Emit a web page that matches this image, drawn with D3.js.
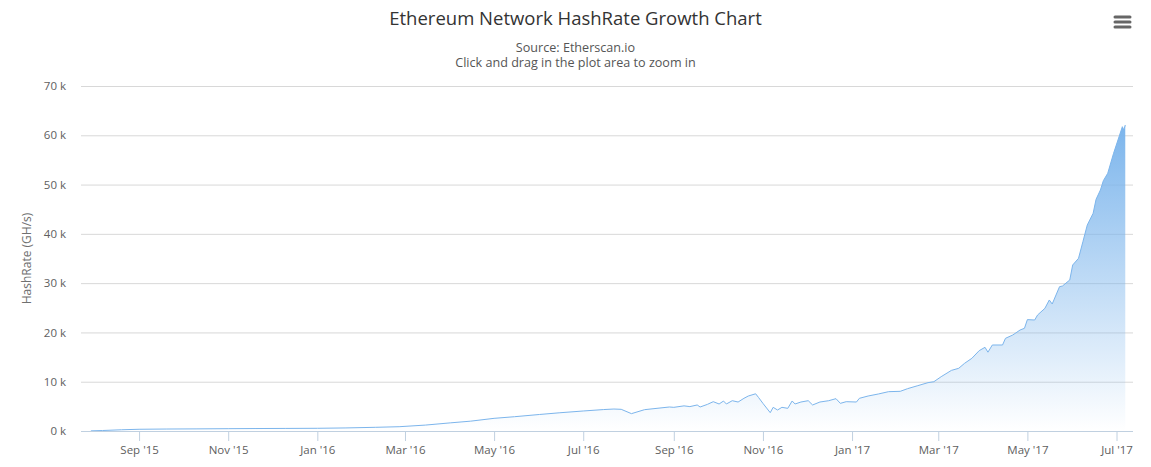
<!DOCTYPE html>
<html>
<head>
<meta charset="utf-8">
<script src="https://cdn.jsdelivr.net/npm/d3@7"></script>
<style>
  html, body { margin: 0; padding: 0; background: #fff; }
  svg { display: block; font-family: "Open Sans", "DejaVu Sans", sans-serif; }
</style>
</head>
<body>
<svg id="chart" width="1151" height="467"></svg>
<script>
// ---- Data ----
const titleText = "Ethereum Network HashRate Growth Chart";
const subtitleLines = ["Source: Etherscan.io", "Click and drag in the plot area to zoom in"];
const yAxisTitle = "HashRate (GH/s)";
const yTicks = [0, 10000, 20000, 30000, 40000, 50000, 60000, 70000];
const xTickDates = ["2015-09-01","2015-11-01","2016-01-01","2016-03-01","2016-05-01","2016-07-01",
                    "2016-09-01","2016-11-01","2017-01-01","2017-03-01","2017-05-01","2017-07-01"];

const dates = [
  "2015-07-30","2015-08-07","2015-08-20","2015-09-01","2015-09-20","2015-10-10","2015-11-01",
  "2015-11-20","2015-12-10","2016-01-01","2016-01-20","2016-02-10","2016-02-26","2016-03-15",
  "2016-04-01","2016-04-15","2016-05-01","2016-05-15","2016-06-01","2016-06-15","2016-07-01",
  "2016-07-15","2016-07-22","2016-07-27","2016-08-03","2016-08-12","2016-08-29","2016-09-01",
  "2016-09-08","2016-09-12","2016-09-17","2016-09-19","2016-09-24","2016-09-28","2016-10-02",
  "2016-10-05","2016-10-07","2016-10-11",
  "2016-10-15","2016-10-19","2016-10-22","2016-10-27","2016-10-29","2016-11-01","2016-11-06",
  "2016-11-08","2016-11-11","2016-11-14","2016-11-18","2016-11-21","2016-11-23","2016-11-27",
  "2016-12-02","2016-12-05","2016-12-10","2016-12-16","2016-12-21","2016-12-24","2016-12-28",
  "2017-01-04","2017-01-06","2017-01-12","2017-01-19","2017-01-26","2017-02-03","2017-02-08",
  "2017-02-15","2017-02-22","2017-02-26","2017-03-03","2017-03-10","2017-03-15","2017-03-19",
  "2017-03-24","2017-03-29","2017-04-02","2017-04-04","2017-04-07","2017-04-14","2017-04-16",
  "2017-04-21","2017-04-26","2017-04-29","2017-05-01","2017-05-06","2017-05-08","2017-05-13",
  "2017-05-16","2017-05-18","2017-05-23","2017-05-25","2017-05-30","2017-06-01","2017-06-05",
  "2017-06-08","2017-06-11","2017-06-15","2017-06-17","2017-06-20","2017-06-22","2017-06-25",
  "2017-06-29","2017-07-02","2017-07-05","2017-07-06","2017-07-07"
];
const hashrate = [
  30,100,250,350,400,430,470,
  500,520,550,620,750,870,1200,
  1650,2000,2570,2900,3350,3700,4060,
  4350,4460,4400,3520,4330,4870,4800,
  5100,4950,5280,4870,5400,5950,5480,
  6080,5480,6150,
  5880,6630,7100,7550,6800,5610,3720,
  4800,4260,4800,4600,6090,5480,5880,
  6150,5280,5880,6150,6560,5610,5950,
  5880,6630,7100,7510,7980,8050,8590,
  9200,9810,10000,11020,12300,12720,13730,
  14750,16300,16980,15990,17450,17450,18800,
  19480,20490,20840,22600,22520,23540,24890,
  26580,25770,29280,29420,30640,33680,35040,
  38410,41800,44170,47000,48900,50790,52290,
  56350,59040,61740,61070,62090
];

// ---- Layout ----
const W = 1151, H = 467;
const plot = { left: 81, right: 1133, top: 86, bottom: 431 };
const parse = d3.utcParse("%Y-%m-%d");
const data = dates.map((d, i) => ({ date: parse(d), value: hashrate[i] }));

const x = d3.scaleUtc()
  .domain([new Date(Date.UTC(2015, 6, 23, 6)), new Date(Date.UTC(2017, 6, 12, 7))])
  .range([plot.left, plot.right]);
const y = d3.scaleLinear().domain([0, 70000]).range([plot.bottom, plot.top]);

const svg = d3.select("#chart");
const defs = svg.append("defs");
const grad = defs.append("linearGradient").attr("id", "areaGrad")
  .attr("x1", 0).attr("y1", 0).attr("x2", 0).attr("y2", 1);
grad.append("stop").attr("offset", 0).attr("stop-color", "#7cb5ec").attr("stop-opacity", 1);
grad.append("stop").attr("offset", 1).attr("stop-color", "#7cb5ec").attr("stop-opacity", 0);

// Title & subtitle
svg.append("text").attr("x", W / 2).attr("y", 25).attr("text-anchor", "middle")
  .attr("fill", "#333333").style("font-size", "18.5px").text(titleText);
svg.selectAll(".sub").data(subtitleLines).join("text").attr("class", "sub")
  .attr("x", W / 2).attr("y", (d, i) => 52 + i * 15).attr("text-anchor", "middle")
  .attr("fill", "#555555").style("font-size", "12.6px").text(d => d);

// Gridlines + y labels
const yAxis = d3.axisLeft(y).tickValues(yTicks)
  .tickSize(-(plot.right - plot.left)).tickPadding(15)
  .tickFormat(d => (d / 1000) + " k");
const gy = svg.append("g").attr("transform", `translate(${plot.left},0)`).call(yAxis);
gy.select(".domain").remove();
gy.selectAll(".tick line").attr("stroke", "#D8D8D8").attr("stroke-width", 1);
gy.selectAll(".tick text").attr("fill", "#606060").style("font-size", "11.5px")
  .style("font-family", "'Open Sans', sans-serif");
gy.selectAll(".tick").filter(d => d === 0).select("line").remove();

// Y axis title
svg.append("text").attr("transform", `translate(31,${(plot.top + plot.bottom) / 2}) rotate(-90)`)
  .attr("text-anchor", "middle").attr("fill", "#707070").style("font-size", "12px")
  .text(yAxisTitle);

// Area + line
const area = d3.area().x(d => x(d.date)).y0(y(0)).y1(d => y(d.value));
const line = d3.line().x(d => x(d.date)).y(d => y(d.value));
svg.append("path").datum(data).attr("d", area).attr("fill", "url(#areaGrad)");
svg.append("path").datum(data).attr("d", line).attr("fill", "none")
  .attr("stroke", "#7cb5ec").attr("stroke-width", 1);

// X axis
const fmt = d3.utcFormat("%b '%y");
const xAxis = d3.axisBottom(x).tickValues(xTickDates.map(parse))
  .tickSize(10).tickPadding(5).tickFormat(fmt);
const gx = svg.append("g").attr("transform", `translate(0,${plot.bottom})`).call(xAxis);
gx.select(".domain").attr("stroke", "#C0D0E0").attr("d", `M${plot.left},0.5H${plot.right}`);
gx.selectAll(".tick line").attr("stroke", "#C0D0E0");
gx.selectAll(".tick text").attr("fill", "#606060").style("font-size", "11.5px")
  .style("font-family", "'Open Sans', sans-serif");

// Context menu icon
const menu = svg.append("g").attr("transform", "translate(1114,0)");
[17, 22, 27].forEach(yy => menu.append("line").attr("x1", 1).attr("x2", 16)
  .attr("y1", yy).attr("y2", yy).attr("stroke", "#666").attr("stroke-width", 3)
  .attr("stroke-linecap", "round"));
</script>
</body>
</html>
